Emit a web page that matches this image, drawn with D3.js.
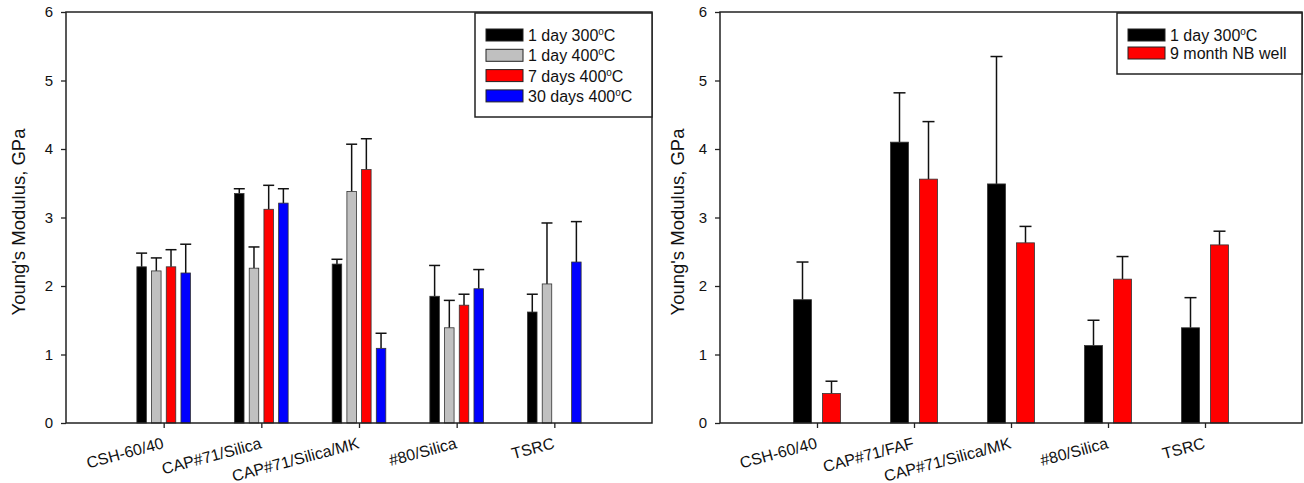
<!DOCTYPE html>
<html>
<head>
<meta charset="utf-8">
<script src="https://cdn.jsdelivr.net/npm/d3@7"></script>
<style>
  body { margin: 0; background: #fff; }
  svg { display: block; font-family: "Liberation Sans", Arial, sans-serif; }
</style>
</head>
<body>
<svg width="1304" height="483"></svg>
<script>
const width = 1304,
      height = 483

// left panel
const leftCategories = ["CSH-60/40", "CAP#71/Silica", "CAP#71/Silica/MK", "#80/Silica", "TSRC"]
const leftSeries = ["1 day 300", "1 day 400", "7 days 400", "30 days 400"]
const leftColors = ["#000000", "#c0c0c0", "#ff0000", "#0000ff"]
const leftValues = [
  [2.28, 3.35, 2.32, 1.85, 1.62],
  [2.22, 2.26, 3.38, 1.39, 2.03],
  [2.28, 3.12, 3.70, 1.72, null],
  [2.19, 3.21, 1.09, 1.96, 2.35]
]
const leftErrors = [
  [2.48, 3.42, 2.39, 2.30, 1.88],
  [2.41, 2.57, 4.07, 1.79, 2.92],
  [2.53, 3.47, 4.15, 1.88, null],
  [2.61, 3.42, 1.31, 2.24, 2.94]
]

// right panel
const rightCategories = ["CSH-60/40", "CAP#71/FAF", "CAP#71/Silica/MK", "#80/Silica", "TSRC"]
const rightSeries = ["1 day 300", "9 month NB well"]
const rightColors = ["#000000", "#ff0000"]
const rightValues = [
  [1.80, 4.10, 3.49, 1.13, 1.39],
  [0.43, 3.56, 2.63, 2.10, 2.60]
]
const rightErrors = [
  [2.35, 4.82, 5.35, 1.50, 1.83],
  [0.61, 4.40, 2.87, 2.43, 2.80]
]

const yTicks = [0, 1, 2, 3, 4, 5, 6]

const svg = d3.select("svg")
  .attr("width", width)
  .attr("height", height)

function drawPanel (opts) {
  const g = svg.append("g")

  const x = d3.scaleLinear().domain([0, 6]).range([opts.x0, opts.x1])
  const y = d3.scaleLinear().domain([0, 6]).range([423, 12])

  const n = opts.series.length
  const offset = i => (i - (n - 1) / 2) * opts.step

  // bars
  opts.values.forEach((vals, si) => {
    vals.forEach((v, ci) => {
      if (v == null) return
      const cx = x(ci + 1) + offset(si)
      const e = opts.errors[si][ci]
      g.append("line")
        .attr("x1", cx).attr("x2", cx)
        .attr("y1", y(v)).attr("y2", y(e))
        .attr("stroke", "#111").attr("stroke-width", 1.5)
      g.append("line")
        .attr("x1", cx - opts.cap).attr("x2", cx + opts.cap)
        .attr("y1", y(e)).attr("y2", y(e))
        .attr("stroke", "#111").attr("stroke-width", 1.5)
      g.append("rect")
        .attr("x", cx - opts.barW / 2)
        .attr("y", y(v))
        .attr("width", opts.barW)
        .attr("height", y(0) - y(v))
        .attr("fill", opts.colors[si])
        .attr("stroke", "#333")
        .attr("stroke-width", 0.8)
    })
  })

  // frame
  g.append("rect")
    .attr("x", opts.x0).attr("y", 12)
    .attr("width", opts.x1 - opts.x0).attr("height", 411)
    .attr("fill", "none").attr("stroke", "#222").attr("stroke-width", 1.5)

  // y axis
  const yAxis = g.append("g")
    .attr("transform", `translate(${opts.x0},0)`)
    .call(d3.axisLeft(y).tickValues(yTicks).tickSize(5).tickPadding(8).tickFormat(d3.format("d")))
  yAxis.select(".domain").remove()
  yAxis.selectAll("line").attr("stroke", "#222").attr("stroke-width", 1.3)
  yAxis.selectAll("text").attr("font-size", 15).attr("fill", "#111")
    .attr("font-family", "Liberation Sans, Arial, sans-serif")

  // x ticks and labels
  const xAxis = g.append("g")
    .attr("transform", "translate(0,423)")
    .call(d3.axisBottom(x).tickValues([1, 2, 3, 4, 5]).tickSize(5).tickFormat(""))
  xAxis.select(".domain").remove()
  xAxis.selectAll("line").attr("stroke", "#222").attr("stroke-width", 1.3)

  opts.categories.forEach((c, i) => {
    g.append("text")
      .attr("transform", `translate(${x(i + 1) + 1},448) rotate(-15)`)
      .attr("text-anchor", "end")
      .attr("font-size", 16)
      .attr("fill", "#111")
      .text(c)
  })

  // y title
  g.append("text")
    .attr("transform", `translate(${opts.titleX},222) rotate(-90)`)
    .attr("text-anchor", "middle")
    .attr("font-size", 18.5)
    .attr("fill", "#111")
    .text("Young's Modulus, GPa")

  // legend
  const lg = g.append("g")
  lg.append("rect")
    .attr("x", opts.legend.x).attr("y", 13)
    .attr("width", opts.x1 - opts.legend.x).attr("height", opts.legend.h)
    .attr("fill", "#fff").attr("stroke", "#222").attr("stroke-width", 1.5)
  opts.series.forEach((s, i) => {
    const yy = 35 + i * opts.legend.dy
    lg.append("rect")
      .attr("x", opts.legend.x + 11).attr("y", yy - 6)
      .attr("width", 37).attr("height", 12)
      .attr("fill", opts.colors[i]).attr("stroke", "#222").attr("stroke-width", 1)
    const t = lg.append("text")
      .attr("x", opts.legend.x + 53).attr("y", yy + 6)
      .attr("font-size", 16).attr("fill", "#111")
    if (s.match(/\d00$/)) {
      t.append("tspan").text(s)
      t.append("tspan").attr("font-size", 10).attr("dy", -6).text("o")
      t.append("tspan").attr("dy", 6).text("C")
    } else {
      t.text(s)
    }
  })
}

drawPanel({
  x0: 66, x1: 652, titleX: 25,
  categories: leftCategories, series: leftSeries, colors: leftColors,
  values: leftValues, errors: leftErrors,
  step: 14.7, barW: 9.5, cap: 5.5,
  legend: {x: 475, h: 104, dy: 20.3}
})

drawPanel({
  x0: 720, x1: 1302, titleX: 684,
  categories: rightCategories, series: rightSeries, colors: rightColors,
  values: rightValues, errors: rightErrors,
  step: 29, barW: 18, cap: 6,
  legend: {x: 1117, h: 61, dy: 18}
})
</script>
</body>
</html>
